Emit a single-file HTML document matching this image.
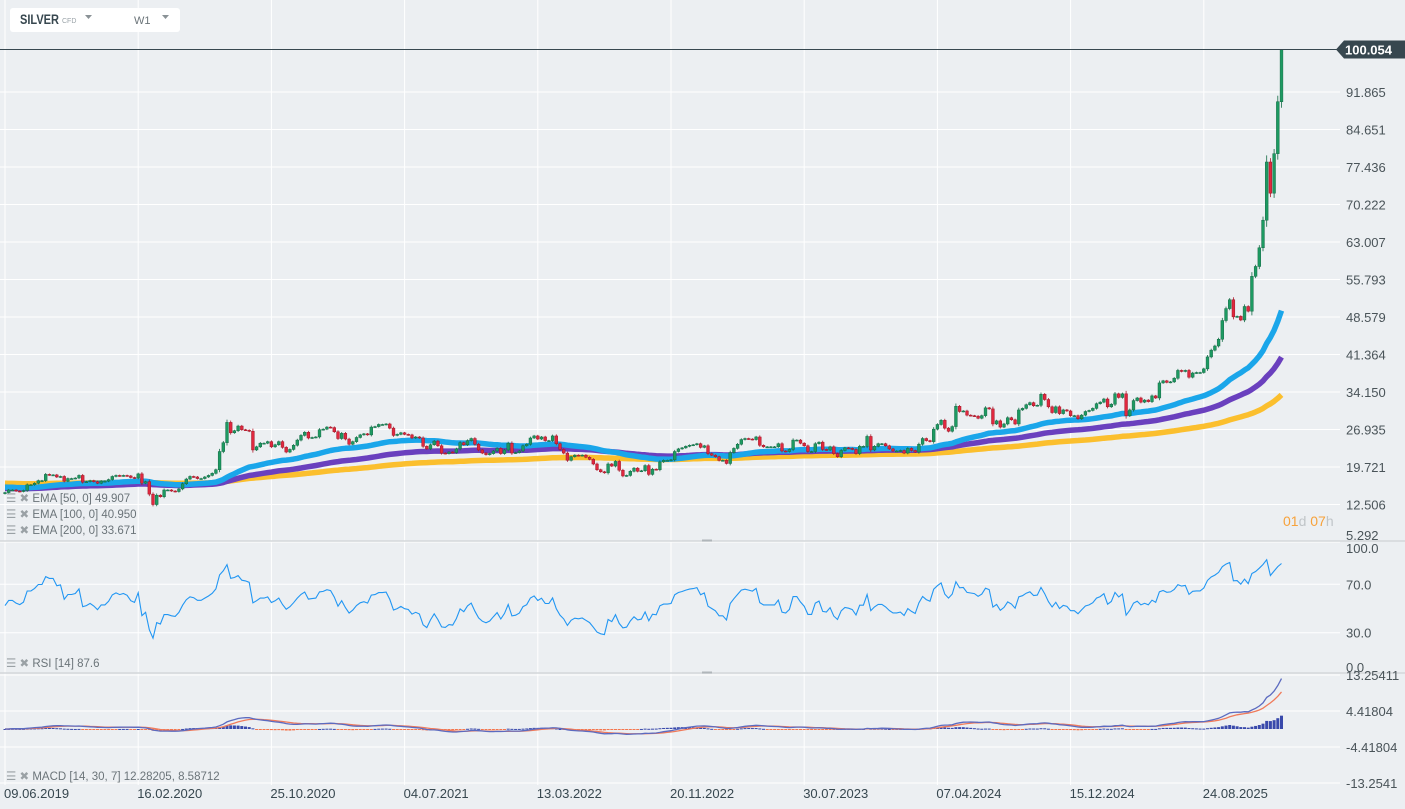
<!DOCTYPE html>
<html><head><meta charset="utf-8"><style>
html,body{margin:0;padding:0;background:#eceff2;width:1405px;height:809px;overflow:hidden}
svg{display:block;font-family:"Liberation Sans",sans-serif}
</style></head><body>
<svg id="chart" width="1405" height="809" viewBox="0 0 1405 809">
<rect x="0" y="0" width="1405" height="809" fill="#eceff2"/>
<g id="grid"></g>
<g id="price"></g>
<g id="rsi"></g>
<g id="macd"></g>
<g id="axes"></g>
<g>
<rect x="10" y="8" width="170" height="24" rx="3" fill="#ffffff"/>
<text x="20" y="24" font-size="13.5" font-weight="bold" fill="#37474f" textLength="39" lengthAdjust="spacingAndGlyphs">SILVER</text>
<text x="62" y="23" font-size="7" fill="#9aa3a8">CFD</text>
<path d="M85 15 l7 0 l-3.5 4 z" fill="#8a9296"/>
<text x="134" y="24" font-size="11" fill="#6b7479">W1</text>
<path d="M162 15 l7 0 l-3.5 4 z" fill="#8a9296"/>
</g>
<g font-size="11.5" fill="#6b7479">
<text x="6" y="502"><tspan fill="#9aa1a5">☰ ✖</tspan> EMA [50, 0] 49.907</text>
<text x="6" y="518"><tspan fill="#9aa1a5">☰ ✖</tspan> EMA [100, 0] 40.950</text>
<text x="6" y="534"><tspan fill="#9aa1a5">☰ ✖</tspan> EMA [200, 0] 33.671</text>
<text x="6" y="667"><tspan fill="#9aa1a5">☰ ✖</tspan> RSI [14] 87.6</text>
<text x="6" y="780"><tspan fill="#9aa1a5">☰ ✖</tspan> MACD [14, 30, 7] 12.28205,  8.58712</text>
</g>
<text x="1283" y="526" font-size="14"><tspan fill="#f7a23b">01</tspan><tspan fill="#c0c5c8">d </tspan><tspan fill="#f7a23b">07</tspan><tspan fill="#c0c5c8">h</tspan></text>
</svg>
<script>
const closes=[
14.8,15.3,15.3,15.1, 15.0,15.2,16.3,16.3, 16.6,17.1,17.1,18.3, 18.2,18.2,17.8,17.9,17.0, 17.5,17.5,17.6,18.1, 16.8,16.9,17.1,16.9, 16.6,17.0,17.0,17.3,17.9,
18.1,18.0,18.1,18.0, 17.7,17.6,18.4,16.6, 16.9,14.5,12.5,14.3,14.0, 15.3,15.3,15.1,15.0, 15.5,16.5,17.4,17.9,17.8, 17.5,17.5,17.8,18.1, 18.5,19.2,22.7,24.4,
28.3,26.3,26.7,27.6,26.9, 26.8,26.6,23.0,23.6, 24.3,24.3,24.6,23.6, 24.0,24.6,23.5,22.6,23.1, 23.9,24.9,25.8,26.4,
25.3,25.4,25.5,26.9,27.0, 27.4,27.3,26.5,25.2, 26.2,25.1,24.1,24.6, 25.4,25.9,26.1,25.9, 27.4,27.5,27.9,27.9,28.0, 27.2,25.8,26.0,26.3,
26.0,25.9,25.3,25.5, 25.3,23.7,23.2,24.0,24.7, 23.8,22.4,22.3,22.6, 22.5,23.2,24.4,24.0,24.8, 25.2,24.1,23.0,22.4, 22.1,22.3,22.8,23.3,
22.3,23.0,24.3,22.4,22.5, 22.8,23.8,24.1,25.3, 25.7,25.1,25.5,24.8, 24.8,25.7,24.2,23.1, 22.4,21.0,21.7,22.0,21.9, 22.0,21.6,21.2,20.3,
19.2,18.8,18.6,20.3,19.9, 20.8,19.1,18.0,18.1, 18.9,19.5,18.9,19.0, 20.0,18.3,19.3,19.2,20.7, 21.0,21.0,21.1,22.7, 23.2,23.4,23.7,23.9,
24.0,24.2,23.5,23.8,22.3, 22.0,21.7,21.0,21.0, 20.4,22.5,23.3,24.1, 25.0,25.2,25.1,25.0,25.5, 23.9,23.6,23.6,23.6, 23.6,24.2,22.8,22.7,
23.1,24.9,24.9,24.3,23.8, 22.7,22.7,24.2,24.5, 23.1,23.0,23.6,22.3, 21.7,22.9,23.4,23.3,23.1, 22.3,23.7,23.7,25.6, 23.0,23.7,24.2,24.2,23.8,
23.2,22.8,22.8,22.9, 22.4,23.3,22.9,22.6, 24.1,25.2,24.8,24.6,27.0, 27.9,28.7,27.2,26.6, 27.5,31.4,30.4,30.5, 29.7,29.6,29.5,29.1,29.6,
31.1,30.9,28.0,28.6, 27.4,28.0,29.2,28.8, 28.0,30.7,31.0,31.7,32.1, 31.5,31.6,33.7,32.7, 31.3,30.2,31.3,30.0, 30.7,30.5,29.6,29.6,29.0,
29.7,30.4,30.6,31.0, 31.9,32.2,32.8,31.3, 31.8,33.8,33.1,33.8,29.6, 30.7,32.5,33.0,32.2, 32.6,32.3,33.4,33.0, 35.9,36.3,36.0,36.1,36.8,
38.3,38.1,38.3,37.0, 37.8,37.9,37.9,38.6,40.9, 42.2,43.0,44.3,47.9, 50.2,51.9,48.6,48.7, 48.0,50.6,49.7,56.4,58.3,
61.9,67.2,78.4,72.4, 80.0,90.0,100.054];
const firstOpen=14.6;
const emaSeeds=[15.9,15.6,16.6];
const emaPeriods=[50,100,200];
const rsiSeed=[0.22,0.2];
const priceTicks=[5.292,12.506,19.721,26.935,34.150,41.364,48.579,55.793,63.007,70.222,77.436,84.651,91.865];
const rsiTicks=[100,70,30,0];
const macdTicks=[13.25411,4.41804,-4.41804,-13.2541];
const macdTickLabels=["13.25411","4.41804","-4.41804","-13.2541"];
const dateLabels=["09.06.2019","16.02.2020","25.10.2020","04.07.2021","13.03.2022","20.11.2022","30.07.2023","07.04.2024","15.12.2024","24.08.2025"];
const dateIndex=[0,36,72,108,144,180,216,252,288,324];

const NS="http://www.w3.org/2000/svg";
function mk(tag,attrs,parent){const e=document.createElementNS(NS,tag);for(const k in attrs)e.setAttribute(k,attrs[k]);parent.appendChild(e);return e;}
const xS=i=>5+i*3.7;
const yP=v=>542-(v-5.292)/7.2145*37.5;
const yR=v=>669-v*1.21;
const yM=v=>729-v*(36/8.836);
const G=document.getElementById('grid'),P=document.getElementById('price'),R=document.getElementById('rsi'),M=document.getElementById('macd'),A=document.getElementById('axes');
const TF=13, TC='#4a5459';

dateIndex.forEach((di,k)=>{
  const l=mk('line',{x1:xS(di),x2:xS(di),y1:0,y2:785,stroke:'#ffffff','stroke-width':1},G);
  
  
  const t=mk('text',{x:xS(di)-1,y:798,'font-size':13,fill:'#37474f'},A);
  t.textContent=dateLabels[k];
  
  
});
priceTicks.forEach(v=>{
  const l=mk('line',{x1:0,x2:1340,y1:yP(v),y2:yP(v),stroke:'#ffffff','stroke-width':1},G);
  
  
  const t=mk('text',{x:1346,y:Math.min(yP(v)+5,540),'font-size':TF,fill:TC},A);
  t.textContent=v.toFixed(3);
  
  
});
rsiTicks.forEach(v=>{
  if(v>0&&v<100){const l=mk('line',{x1:0,x2:1340,y1:yR(v),y2:yR(v),stroke:'#ffffff'},G);
  
  }
  const t=mk('text',{x:1346,y:Math.min(Math.max(yR(v)+5,553),672),'font-size':TF,fill:TC},A);
  t.textContent=v.toFixed(1);
  
  
});
macdTicks.forEach((v,k)=>{
  const l=mk('line',{x1:0,x2:1340,y1:yM(v),y2:yM(v),stroke:'#ffffff'},G);
  
  
  const t=mk('text',{x:1346,y:yM(v)+5,'font-size':TF,fill:TC},A);
  t.textContent=macdTickLabels[k];
  
  
});
[541,673].forEach(y=>{const l=mk('line',{x1:0,x2:1405,y1:y,y2:y,stroke:'#d3d7da','stroke-width':1.5},G);
  
  
  const h=mk('rect',{x:702,y:y-1.5,width:10,height:2,fill:'#b0b6ba'},G);
  
  });

const emaColors=['#1aa6ea','#6a40be','#fbbf2e'];
const emaOrder=[2,1,0];
const emas=emaPeriods.map((p,k)=>{const a=2/(p+1);let e=emaSeeds[k];return closes.map(c=>(e=e+a*(c-e)));});
emaOrder.forEach(k=>{
  const d=emas[k].map((v,i)=>(i?'L':'M')+xS(i).toFixed(1)+' '+yP(v).toFixed(1)).join(' ');
  const p=mk('path',{d:d,fill:'none',stroke:emaColors[k],'stroke-width':5.5,'stroke-linejoin':'round'},P);
  
  
});
closes.forEach((c,i)=>{
  const o=i?closes[i-1]:firstOpen;
  const up=c>=o;
  const hi=Math.max(o,c)+0.15+0.1*Math.abs(c-o), lo=Math.min(o,c)-0.15-0.1*Math.abs(c-o);
  const g=mk('g',{},P);
  
  
  const x=xS(i);
  const top=i===closes.length-1?Math.max(o,c):hi;
  mk('line',{x1:x,x2:x,y1:yP(top),y2:yP(lo),stroke:up?'#146b45':'#b01a2c','stroke-width':0.8},g);
  const yt=yP(Math.max(o,c)), yb=yP(Math.min(o,c));
  mk('rect',{x:x-1.4,y:yt,width:2.8,height:Math.max(1,yb-yt),fill:up?'#1d9a62':'#e0283f',stroke:up?'#146b45':'#9e1626','stroke-width':0.5},g);
});
const last=closes[closes.length-1];
const cl=mk('line',{x1:0,x2:1340,y1:yP(last),y2:yP(last),stroke:'#37474f','stroke-width':1},P);


const lb=mk('g',{},P);


const ly=yP(last);
mk('path',{d:`M1336 ${ly} L1344 ${ly-9} L1405 ${ly-9} L1405 ${ly+9} L1344 ${ly+9} Z`,fill:'#37474f'},lb);
const lt=mk('text',{x:1345,y:ly+5,'font-size':13,'font-weight':'bold',fill:'#ffffff'},lb);
lt.textContent=last.toFixed(3);

const rsi=[];{let ag=rsiSeed[0],al=rsiSeed[1];for(let i=0;i<closes.length;i++){const ch=i?closes[i]-closes[i-1]:0;const g=Math.max(ch,0),l=Math.max(-ch,0);
 ag=(ag*13+g)/14;al=(al*13+l)/14;
 rsi.push(al===0?50:100-100/(1+ag/al));}}
const rp=mk('path',{d:rsi.map((v,i)=>(i?'L':'M')+xS(i).toFixed(1)+' '+yR(v).toFixed(1)).join(' '),fill:'none',stroke:'#2196f3','stroke-width':1.1},R);



const ema=(arr,p)=>{const a=2/(p+1);let e=arr[0];return arr.map(v=>(e=e+a*(v-e)));};
const ef=ema(closes,14),es=ema(closes,30);
const macd=ef.map((v,i)=>v-es[i]);
const sig=ema(macd,7);
macd.forEach((v,i)=>{
  const h=v-sig[i];
  const y0=yM(0),y1=yM(h);
  const b=mk('rect',{x:xS(i)-1.5,y:Math.min(y0,y1),width:3,height:Math.max(1,Math.abs(y1-y0)),fill:h>=0?'#3949ab':'#f4764e'},M);
  
  
});
const sp=mk('path',{d:sig.map((v,i)=>(i?'L':'M')+xS(i).toFixed(1)+' '+yM(v).toFixed(1)).join(' '),fill:'none',stroke:'#f07a5a','stroke-width':1.3},M);


const mp=mk('path',{d:macd.map((v,i)=>(i?'L':'M')+xS(i).toFixed(1)+' '+yM(v).toFixed(1)).join(' '),fill:'none',stroke:'#5c6bc0','stroke-width':1.3},M);


</script>
</body></html>
